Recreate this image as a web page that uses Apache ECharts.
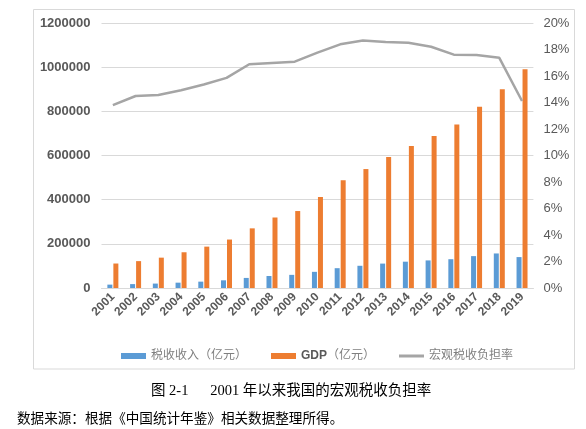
<!DOCTYPE html>
<html>
<head>
<meta charset="utf-8">
<script src="https://cdn.jsdelivr.net/npm/echarts@6/dist/echarts.min.js"></script>
<style>
html,body{margin:0;padding:0;background:#fff;}
#chart{width:586px;height:429px;}
</style>
</head>
<body>
<div id="chart"></div>
<script>
const years = ['2001','2002','2003','2004','2005','2006','2007','2008','2009','2010','2011','2012','2013','2014','2015','2016','2017','2018','2019'];
const taxRevenue = [15301,17636,20017,24166,28779,34804,45622,54224,59522,73211,89738,100614,110531,119175,124922,130361,144370,156403,140000];
const gdp = [110863,121717,137422,161840,187319,219439,270092,319245,348518,412119,487940,538580,592963,643563,688858,740061,820754,900309,990865];
const taxBurden = [13.8,14.49,14.57,14.93,15.36,15.86,16.89,16.99,17.08,17.76,18.39,18.68,18.57,18.51,18.21,17.61,17.59,17.37,14.11];
const leftTicks = {min:0, max:1200000, interval:200000};
const rightTicks = {min:0, max:20, interval:2};
const seriesNames = ['税收收入（亿元）','GDP（亿元）','宏观税收负担率'];
const captionText = '图 2-1      2001 年以来我国的宏观税收负担率';
const sourceText = '数据来源：根据《中国统计年鉴》相关数据整理所得。';

const chart = echarts.init(document.getElementById('chart'), null, {renderer:'canvas'});
const sans = "'Liberation Sans', 'Noto Sans CJK SC', sans-serif";
const serif = "'Liberation Serif', 'Noto Sans CJK SC', serif";
chart.setOption({
  animation:false,
  backgroundColor:'#ffffff',
  textStyle:{fontFamily:sans},
  grid:{left:101.5, right:52.6, top:23, bottom:141, containLabel:false},
  legend:{
    left:116, top:345,
    itemWidth:25, itemHeight:6, itemGap:24,
    textStyle:{fontSize:12, color:'#7F7F7F', fontFamily:sans,
      rich:{b:{fontSize:12, fontWeight:'bold', color:'#595959', fontFamily:sans}}},
    formatter:function(name){
      if(name.indexOf('GDP')===0){return '{b|GDP}' + name.slice(3);}
      return name;
    },
    data:[
      {name:seriesNames[0], icon:'rect'},
      {name:seriesNames[1], icon:'rect'},
      {name:seriesNames[2], icon:'path://M0,0 H25 V3 H0 Z'}
    ]
  },
  xAxis:{
    type:'category', data:years,
    axisLine:{show:true, lineStyle:{color:'#D9D9D9', width:1}},
    axisTick:{show:false},
    axisLabel:{interval:0, rotate:45, fontSize:12, color:'#595959', fontWeight:'bold', margin:7}
  },
  yAxis:[
    {type:'value', min:leftTicks.min, max:leftTicks.max, interval:leftTicks.interval,
     axisLine:{show:false}, axisTick:{show:false},
     splitLine:{lineStyle:{color:'#D9D9D9', width:1}},
     axisLabel:{fontSize:13, color:'#595959', fontWeight:'bold', margin:11,
       formatter:function(v){return String(v);}}},
    {type:'value', min:rightTicks.min, max:rightTicks.max, interval:rightTicks.interval,
     axisLine:{show:false}, axisTick:{show:false}, splitLine:{show:false},
     axisLabel:{fontSize:13, color:'#595959', margin:10, formatter:'{value}%'}}
  ],
  series:[
    {name:seriesNames[0], type:'bar', data:taxRevenue, barWidth:5, barGap:'20%',
     itemStyle:{color:'#5B9BD5'}},
    {name:seriesNames[1], type:'bar', data:gdp, barWidth:5, barGap:'20%',
     itemStyle:{color:'#ED7D31'}},
    {name:seriesNames[2], type:'line', yAxisIndex:1, data:taxBurden, symbol:'none',
     lineStyle:{color:'#A5A5A5', width:2.5}, itemStyle:{color:'#A5A5A5'}}
  ],
  graphic:[
    {type:'rect', shape:{x:33.5, y:9.5, width:541, height:359.5}, z:-1,
     style:{fill:'none', stroke:'#D9D9D9', lineWidth:1}},
    {type:'text', left:151, top:384,
     style:{text:captionText, fontSize:14.5, fill:'#000', fontFamily:serif}},
    {type:'text', left:17, top:413,
     style:{text:sourceText, fontSize:13.6, fill:'#000', fontFamily:serif}}
  ]
});
</script>
</body>
</html>
